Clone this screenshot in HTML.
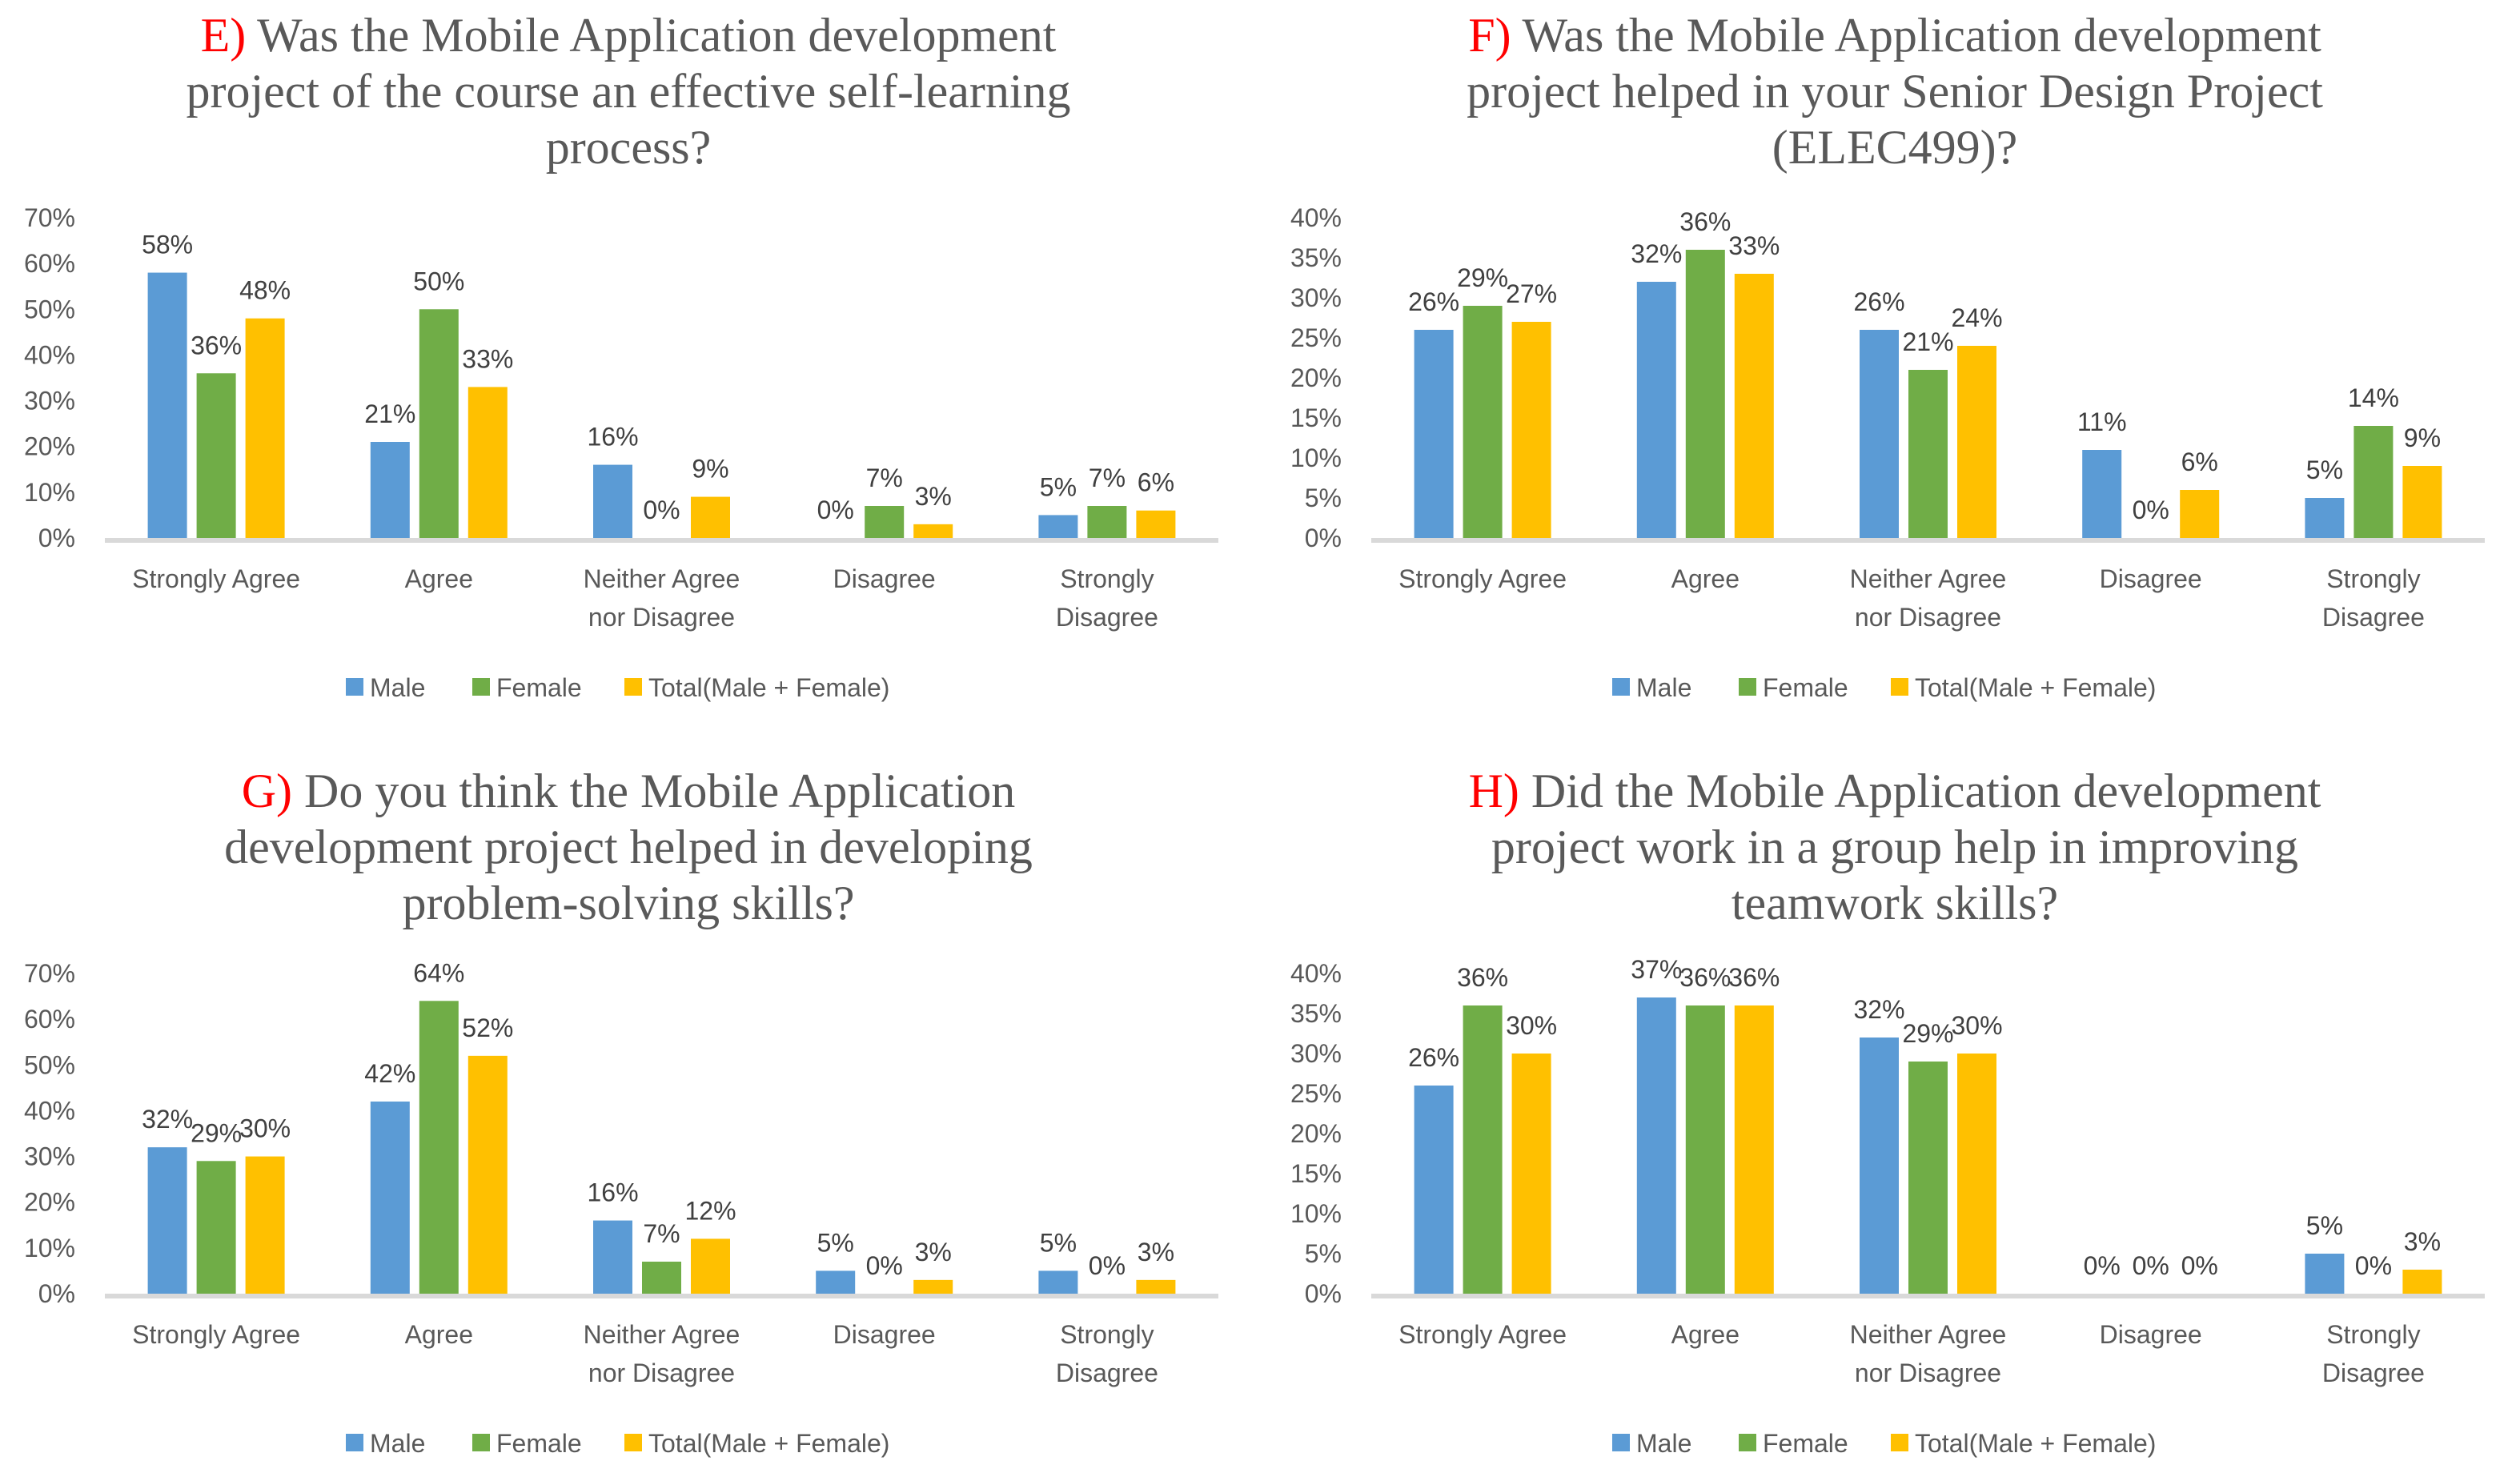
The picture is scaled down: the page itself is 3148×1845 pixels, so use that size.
<!DOCTYPE html>
<html><head><meta charset="utf-8">
<style>
html,body{margin:0;padding:0;background:#fff;}
svg{display:block;}
.t{font-family:"Liberation Serif",serif;fill:#595959;font-size:60px;}
.l{font-family:"Liberation Sans",sans-serif;fill:#404040;font-size:32px;}
.a{font-family:"Liberation Sans",sans-serif;fill:#595959;font-size:32px;}
</style></head>
<body>
<svg id="s" width="3148" height="1845" viewBox="0 0 3148 1845" xmlns="http://www.w3.org/2000/svg"></svg>
<script>
const categories=["Strongly Agree","Agree","Neither Agree|nor Disagree","Disagree","Strongly|Disagree"];
const seriesNames=["Male","Female","Total(Male + Female)"];
const eMale=[58,21,16,0,5], eFemale=[36,50,0,7,7], eTotal=[48,33,9,3,6];
const fMale=[26,32,26,11,5], fFemale=[29,36,21,0,14], fTotal=[27,33,24,6,9];
const gMale=[32,42,16,5,5], gFemale=[29,64,7,0,0], gTotal=[30,52,12,3,3];
const hMale=[26,37,32,0,5], hFemale=[36,36,29,0,0], hTotal=[30,36,30,0,3];
const ticks70=[0,10,20,30,40,50,60,70];
const ticks40=[0,5,10,15,20,25,30,35,40];
const titleE=["Was the Mobile Application development","project of the course an effective  self-learning","process?"];
const titleF=["Was the Mobile Application development","project helped in your Senior Design Project","(ELEC499)?"];
const titleG=["Do you think the Mobile Application","development  project helped in developing","problem-solving  skills?"];
const titleH=["Did the Mobile Application development","project work in a group help in improving","teamwork  skills?"];
const colors=["#5b9bd5","#70ad47","#ffc000"];
const NS="http://www.w3.org/2000/svg";
const svg=document.getElementById('s');
function mk(tag,attrs,parent){const e=document.createElementNS(NS,tag);for(const k in attrs)e.setAttribute(k,attrs[k]);(parent||svg).appendChild(e);return e;}
function chart(id,ox,oy,letter,title,ticks,max,series){
  const g=mk('g',{});
  
  
  const tt=mk('text',{class:'t','text-anchor':'middle',x:ox+785,y:oy+64},g);
  
  
  title.forEach((line,i)=>{
    const ts=mk('tspan',{x:ox+785,dy:i?70:0},tt);
    if(i===0){const r=mk('tspan',{fill:'#ff0000'},ts);r.textContent=letter+') ';const rest=mk('tspan',{},ts);rest.textContent=line;}
    else ts.textContent=line;
  });
  const base=oy+672, top=oy+272, x0=ox+131, x1=ox+1522;
  const y=v=>base-(v/max)*(base-top);
  const step=(x1-x0)/5;
  const cx=i=>x0+step*(i+0.5);
  ticks.forEach(t=>{
    const e=mk('text',{class:'a','text-anchor':'end',x:ox+94,y:y(t)+11},g);
    
    
    e.textContent=t+'%';
  });
  const bw=49, bs=61;
  series.forEach((arr,s)=>{
    arr.forEach((v,i)=>{
      const bx=cx(i)+(s-1)*bs-bw/2;
      const r=mk('rect',{x:bx,y:y(v),width:bw,height:base-y(v),fill:colors[s]},g);
      
      
      const lb=mk('text',{class:'l','text-anchor':'middle',x:bx+bw/2,y:y(v)-24},g);
      
      
      lb.textContent=v+'%';
    });
  });
  const ax=mk('rect',{x:x0,y:base,width:x1-x0,height:6,fill:'#d9d9d9'},g);
  
  
  categories.forEach((c,i)=>{
    c.split('|').forEach((ln,j)=>{
      const e=mk('text',{class:'a','text-anchor':'middle',x:cx(i),y:oy+734+j*48},g);
      
      
      e.textContent=ln;
    });
  });
  const lx=[ox+432,ox+590,ox+780], ltx=[ox+462,ox+620,ox+810];
  seriesNames.forEach((n,s)=>{
    const sq=mk('rect',{x:lx[s],y:oy+847,width:22,height:22,fill:colors[s]},g);
    
    
    const t=mk('text',{class:'a',x:ltx[s],y:oy+870},g);
    
    
    t.textContent=n;
  });
}
chart('e',0,0,'E',titleE,ticks70,70,[eMale,eFemale,eTotal]);
chart('f',1582,0,'F',titleF,ticks40,40,[fMale,fFemale,fTotal]);
chart('g',0,944,'G',titleG,ticks70,70,[gMale,gFemale,gTotal]);
chart('h',1582,944,'H',titleH,ticks40,40,[hMale,hFemale,hTotal]);
</script>
</body></html>
